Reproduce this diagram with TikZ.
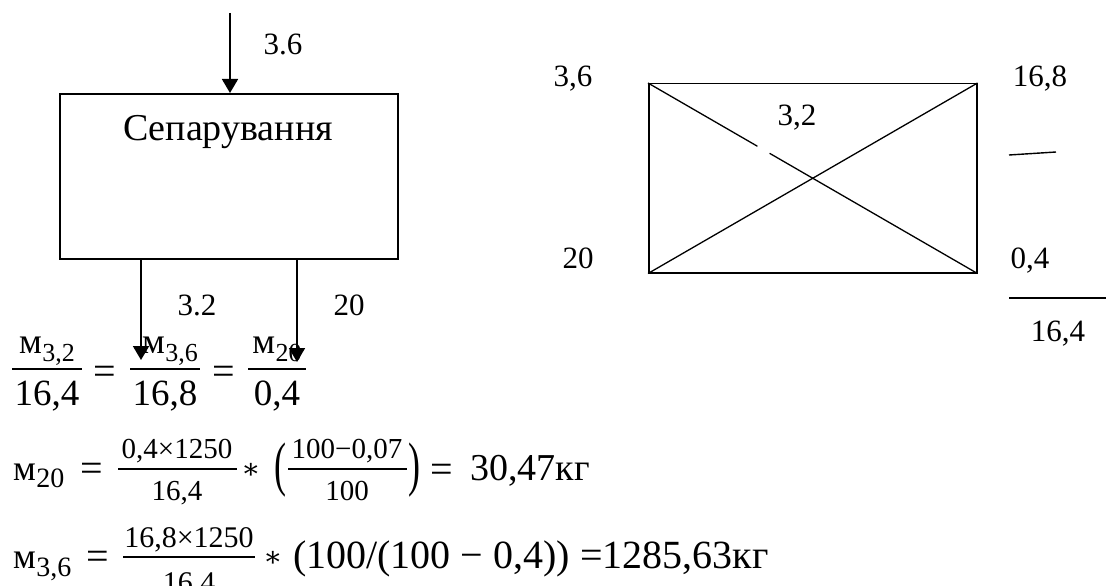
\documentclass[tikz,border=0pt]{standalone}
\usepackage{fontspec}
\setmainfont{Liberation Serif}
\newfontfamily\symfont{DejaVu Serif}
\usetikzlibrary{arrows.meta,calc}
\newcommand\fsz[1]{\fontsize{#1}{#1}\selectfont}
\newcommand\msub[4]{{\fsz{#1}м}\kern0.5pt\raisebox{-#3pt}{\fsz{#2}#4}}
\begin{document}
\begin{tikzpicture}[x=1pt,y=-1pt,
  lbl/.style={inner sep=0pt, anchor=base, font=\fsz{31}},
  txt/.style={inner sep=0pt, anchor=base},
  flowarr/.style={line width=1.8pt, -{Triangle[width=16pt,length=14pt]}},
  boxline/.style={draw, line width=1.8pt, inner sep=0pt, anchor=north west},
  diag/.style={line width=1.3pt},
  fracbar/.style={line width=2.4pt},
  rule/.style={line width=1.4pt}]
\path[use as bounding box, fill=white] (0,0) rectangle (1106,586);

% ---- separation block
\node[boxline, minimum width=338pt, minimum height=165pt] (sep) at (59,93) {};
\node[txt, font=\fsz{38}] (septxt) at (228,140) {Сепарування};
\coordinate (in) at (230,13);
\coordinate (out1) at (141,360);
\coordinate (out2) at (297,362);
\draw[flowarr] (in) -- (in |- sep.north);
\draw[flowarr] (out1 |- sep.south) -- (out1);
\draw[flowarr] (out2 |- sep.south) -- (out2);
\node[lbl] (l36) at (283,55) {3.6};
\node[lbl] (l32) at (197,315) {3.2};
\node[lbl] (l20) at (349,315) {20};

% ---- square (envelope) scheme
\node[boxline, line width=1.5pt, minimum width=328pt, minimum height=189pt] (sq) at (648,83) {};
\coordinate (g1) at ($(sq.north west)!0.332!(sq.south east)$);
\coordinate (g2) at ($(sq.north west)!0.369!(sq.south east)$);
\draw[diag] (sq.north east) -- (sq.south west);
\draw[diag] (sq.north west) -- (g1);
\draw[diag] (g2) -- (sq.south east);
\node[lbl] (a36) at (573,87) {3,6};
\node[lbl] (a168) at (1040,87) {16,8};
\node[lbl] (a32) at (797,125) {3,2};
\node[lbl] (a20) at (578,268) {20};
\node[lbl] (a04) at (1030,268) {0,4};
\node[lbl] (a164) at (1058,341) {16,4};
\coordinate (s1) at (1009,155);
\coordinate (s2) at (1056,152);
\coordinate (b1) at (1009,298);
\coordinate (b2) at (1106,298);
\draw[rule] (s1) -- (s2);
\draw[rule] (b1) -- (b2);

% ---- equation row 1
\node[txt] (n1) at (47,353) {\msub{36}{26}{8}{3,2}};
\draw[fracbar] (12,369) -- (82,369);
\node[txt, font=\fsz{37}] (d1) at (47,405) {16,4};
\node[txt, font=\fsz{40}] (e1) at (105,384) {=};
\node[txt] (n2) at (170,353) {\msub{36}{26}{8}{3,6}};
\draw[fracbar] (130,369) -- (200,369);
\node[txt, font=\fsz{37}] (d2) at (165,405) {16,8};
\node[txt, font=\fsz{40}] (e2) at (224,384) {=};
\node[txt] (n3) at (277,353) {\msub{36}{26}{8}{20}};
\draw[fracbar] (248,369) -- (306,369);
\node[txt, font=\fsz{37}] (d3) at (277,405) {0,4};

% ---- equation row 2
\node[txt, anchor=base west] (m20) at (13,480) {\msub{36}{28}{7}{20}};
\node[txt, font=\fsz{40}] (e3) at (92,481) {=};
\draw[fracbar] (118,469) -- (237,469);
\node[txt, font=\fsz{29}] (n4) at (177,458) {0,4×1250};
\node[txt, font=\fsz{29}] (d4) at (177,500) {16,4};
\node[txt, font=\fsz{28}\symfont] (ast1) at (251,478) {∗};
\node[txt, font=\fsz{40}] (p1) at (280,484) {\scalebox{0.9}[1.5]{(}};
\draw[fracbar] (288,469) -- (407,469);
\node[txt, font=\fsz{29}] (n5) at (347,458) {100−0,07};
\node[txt, font=\fsz{29}] (d5) at (347,500) {100};
\node[txt, font=\fsz{40}] (p2) at (414,484) {\scalebox{0.9}[1.5]{)}};
\node[txt, font=\fsz{40}] (e4) at (442,482) {=};
\node[txt, anchor=base west, font=\fsz{38}] (r1) at (470,480) {30,47кг};

% ---- equation row 3
\node[txt, anchor=base west] (m36) at (13,568) {\msub{36}{28}{8}{3,6}};
\node[txt, font=\fsz{40}] (e5) at (98,569) {=};
\draw[fracbar] (123,557) -- (255,557);
\node[txt, font=\fsz{30}] (n6) at (189,547) {16,8×1250};
\node[txt, font=\fsz{30}] (d6) at (189,592) {16,4};
\node[txt, font=\fsz{28}\symfont] (ast2) at (273,566) {∗};
\node[txt, anchor=base west, font=\fsz{40}] (r2) at (293,568) {(100/(100 − 0,4)) =1285,63кг};
\end{tikzpicture}
\end{document}
